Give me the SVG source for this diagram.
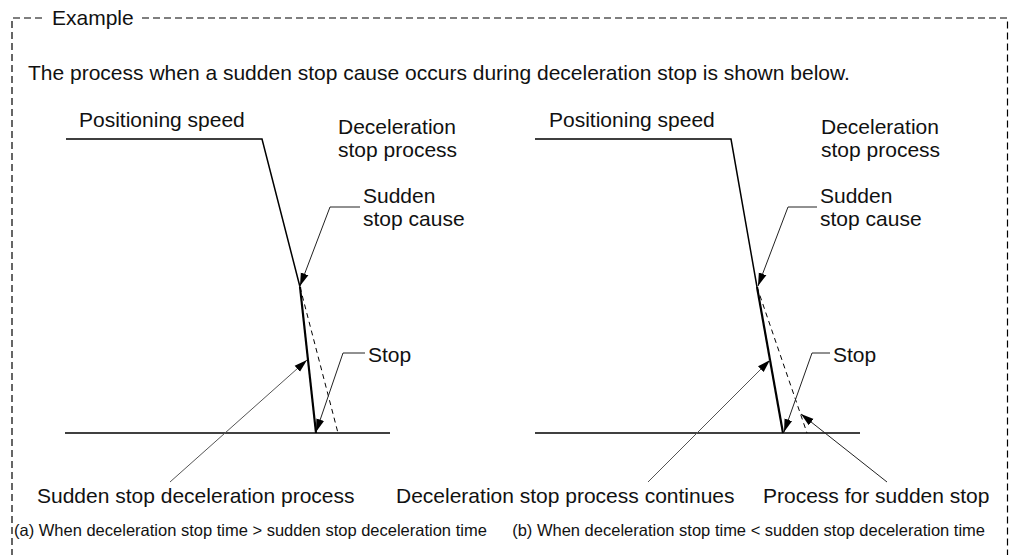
<svg xmlns="http://www.w3.org/2000/svg" width="1009" height="555" viewBox="0 0 1009 555">
  <defs>
    <marker id="ah" markerUnits="userSpaceOnUse" markerWidth="14" markerHeight="10" viewBox="0 0 14 10" refX="13" refY="5" orient="auto">
      <path d="M0,1 L13,5 L0,9 Z" fill="#000"/>
    </marker>
  </defs>
  <style>
    text { font-family: "Liberation Sans", Arial, sans-serif; fill: #111; }
    .t { font-size: 21px; }
    .cap { font-size: 16.5px; }
    .border { fill: none; stroke: #000; stroke-width: 1.2; stroke-dasharray: 7 4; }
    .curve { fill: none; stroke: #000; stroke-width: 1.5; }
    .thick { fill: none; stroke: #000; stroke-width: 2.2; }
    .base { fill: none; stroke: #000; stroke-width: 1.5; }
    .dash { fill: none; stroke: #000; stroke-width: 1; stroke-dasharray: 5 4; }
    .lead { fill: none; stroke: #222; stroke-width: 1; }
    .leadg { fill: none; stroke: #555; stroke-width: 1; }
  </style>
  <rect width="1009" height="555" fill="#fff"/>

  <g id="frame">
    <path class="border" d="M42,18 H12 V560"/>
    <path class="border" d="M142,18 H1007.5 V560"/>
    <text class="t" x="52" y="25">Example</text>
    <text class="t" x="28" y="80">The process when a sudden stop cause occurs during deceleration stop is shown below.</text>
  </g>

  <g id="chart-a">
    <path class="curve" d="M66,139 H262 L300,287"/>
    <path class="thick" d="M300,287 L316,433"/>
    <path class="dash" d="M300,287 L338,433"/>
    <path class="base" d="M65,433 H390"/>
    <text class="t" x="79" y="127">Positioning speed</text>
    <text class="t" x="338" y="134">Deceleration</text>
    <text class="t" x="338" y="157">stop process</text>
    <text class="t" x="363" y="203">Sudden</text>
    <text class="t" x="363" y="226">stop cause</text>
    <text class="t" x="368" y="362">Stop</text>
    <text class="t" x="37" y="503">Sudden stop deceleration process</text>
    <text class="cap" x="14" y="536">(a) When deceleration stop time &gt; sudden stop deceleration time</text>
  </g>

  <g id="chart-b">
    <path class="curve" d="M535,139 H731 L757,287"/>
    <path class="thick" d="M757,287 L783,433"/>
    <path class="dash" d="M757,287 L807,433"/>
    <path class="base" d="M535,433 H860"/>
    <text class="t" x="549" y="127">Positioning speed</text>
    <text class="t" x="821" y="134">Deceleration</text>
    <text class="t" x="821" y="157">stop process</text>
    <text class="t" x="820" y="203">Sudden</text>
    <text class="t" x="820" y="226">stop cause</text>
    <text class="t" x="833" y="362">Stop</text>
    <text class="t" x="396" y="503">Deceleration stop process continues</text>
    <text class="t" x="763" y="503">Process for sudden stop</text>
    <text class="cap" x="985" y="536" text-anchor="end">(b) When deceleration stop time &lt; sudden stop deceleration time</text>
  </g>

  <g id="connectors">
    <path class="lead" d="M360,207 H330 L300,286" marker-end="url(#ah)"/>
    <path class="lead" d="M365,353 H343 L316,432" marker-end="url(#ah)"/>
    <path class="leadg" d="M170,482 L307,360" marker-end="url(#ah)"/>
    <path class="lead" d="M817,207 H788 L758,286" marker-end="url(#ah)"/>
    <path class="lead" d="M830,353 H812 L784,432" marker-end="url(#ah)"/>
    <path class="leadg" d="M648,482 L770,360" marker-end="url(#ah)"/>
    <path class="lead" d="M887,482 L801,414" marker-end="url(#ah)"/>
  </g>
</svg>
